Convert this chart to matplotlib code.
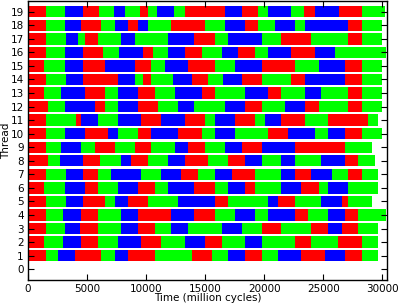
import matplotlib
matplotlib.use("Agg")
import matplotlib.pyplot as plt

# thread ids (row 0 never runs anything)
threads = list(range(1, 20))

# phase boundaries per thread (million cycles), thread 1 first
edges = [
    [0, 1550, 2550, 3950, 6200, 7350, 8500, 10750, 13850, 15550, 16950, 18350, 19800, 21200, 23150, 25150, 26850, 28250, 29650],
    [0, 1400, 2950, 4500, 5950, 7650, 9600, 11300, 13300, 14950, 16400, 18350, 19800, 22600, 24000, 26250, 28250, 29650],
    [0, 1550, 3100, 4400, 5950, 7900, 9300, 10750, 12150, 13550, 16400, 18100, 19800, 21450, 24000, 25400, 26550, 27950, 29650],
    [0, 1550, 2950, 4500, 5950, 7900, 9300, 12150, 14100, 15800, 17500, 19200, 20350, 22600, 23750, 25400, 26850, 27950, 30350],
    [0, 1550, 3250, 4650, 6500, 7350, 8500, 10150, 12700, 15800, 16950, 20350, 21200, 22600, 24850, 26550, 27100, 29100],
    [0, 1400, 3100, 4800, 5950, 7650, 9300, 10750, 11850, 14100, 15800, 16950, 18350, 19200, 21450, 23150, 24600, 25400, 27100, 29650],
    [0, 1550, 3250, 4650, 5950, 7050, 9600, 11300, 13000, 14400, 15800, 17250, 19200, 21450, 22600, 24000, 25700, 27100, 28250, 29650],
    [0, 1700, 2700, 4650, 6100, 7900, 8750, 10150, 11850, 13300, 15250, 16950, 18350, 19800, 21450, 22600, 24850, 26850, 27950, 29400],
    [0, 1550, 2800, 4500, 5650, 7350, 9050, 10450, 12450, 13550, 14950, 16650, 18100, 19800, 22600, 26850, 29100],
    [0, 1550, 3100, 4800, 6800, 7650, 9300, 10450, 12700, 14700, 15800, 17500, 20350, 22050, 24300, 25400, 26850, 28250, 29950],
    [0, 1550, 4100, 4500, 5950, 7650, 9600, 11300, 13300, 15000, 15800, 17500, 19200, 20050, 21450, 23450, 25400, 28800, 29650],
    [0, 1700, 3100, 5650, 6500, 7650, 9300, 11000, 12700, 14100, 16650, 18350, 19800, 21750, 23450, 24600, 27100, 28250, 29950],
    [0, 1400, 2800, 4800, 6500, 7650, 9300, 10750, 12450, 14700, 15800, 18350, 20350, 21450, 23450, 24850, 27100, 28250, 29950],
    [0, 1550, 3250, 4650, 7650, 9050, 9750, 10450, 12300, 13850, 15250, 16550, 18100, 19800, 22300, 23450, 26850, 28250, 29950],
    [0, 1400, 3100, 4650, 6500, 9050, 10450, 11600, 13550, 15800, 17500, 19800, 22600, 24600, 26850, 28250, 29950],
    [0, 1550, 3150, 4650, 6350, 7750, 9750, 10600, 11850, 13300, 14700, 16400, 17800, 19200, 20350, 22300, 24300, 26000, 30350],
    [0, 1550, 3250, 4250, 4800, 5950, 7900, 9050, 11850, 14100, 15800, 16950, 19800, 21450, 24000, 27100, 28250, 29950],
    [0, 1550, 3150, 4500, 6200, 7350, 8500, 9300, 10200, 12150, 14950, 16650, 18350, 19500, 20900, 22600, 23450, 27100, 28250, 29950],
    [0, 1550, 3150, 4650, 6050, 7300, 8200, 9450, 10200, 10900, 12400, 13300, 16700, 18100, 19500, 20300, 22300, 23400, 24300, 26300, 28250, 30200],
]

# phase kind of each segment between two edges
phases = [
    "RGBRGBRGRGBRGBRBRG",
    "RGBRGBRGBRGBGRGRG",
    "RGBRGBRGBGBGRGRBRG",
    "RGBRGBRBRGBGBRGBRG",
    "RGBRGBRGBRGBRGBRG",
    "RGBRGBRGBRGBRGBRGBG",
    "RGBRGBGBRGBRGBRBGRG",
    "RGBRGBRGBRGRBGBGBRG",
    "RGBGRGRGBRGBRBRG",
    "RGBRBGRBRGBGRBGBRG",
    "RGRBGBRBRGBRGBRGRG",
    "RGBRGBRGBGBRGBRGRG",
    "RGBRGBRGBRGBRGBGRG",
    "RGBRBGRGBRGBRGRBRG",
    "RGBRBRGBRGBRGBRG",
    "RGBRGBRGBRGBRGBRBG",
    "RGBGRGBGBRGBGRGRG",
    "RGBRGBRBGRGBRGBGBRG",
    "RGBRGBGRGBGRBRGBGRBRG",
]

colors = {"R": "#ff0000", "G": "#00ff00", "B": "#0000ff"}

fig = plt.figure(figsize=(3.99, 3.07), dpi=100)
ax = fig.add_axes([0.070, 0.088, 0.900, 0.909])

for t, e, p in zip(threads, edges, phases):
    for kind in "RGB":
        segs = [(e[i], e[i + 1] - e[i]) for i in range(len(p)) if p[i] == kind]
        ax.broken_barh(segs, (t - 0.42, 0.84), facecolors=colors[kind], linewidth=0)

ax.set_xlim(0, 30400)
ax.set_ylim(-0.8, 19.8)
ax.set_yticks(range(0, 20))
ax.set_xticks(range(0, 30001, 5000))
ax.tick_params(direction="in", top=True, right=True, labelsize=7.5, length=4)
ax.tick_params(axis="x", pad=3)
ax.tick_params(axis="y", pad=3)
ax.set_xlabel("Time (million cycles)", fontsize=7.5)
ax.set_ylabel("Thread", fontsize=7.5)
ax.xaxis.set_label_coords(0.5, -0.047)
ax.yaxis.set_label_coords(-0.048, 0.5)
for s in ax.spines.values():
    s.set_linewidth(1)

fig.savefig("out.png", dpi=100)
